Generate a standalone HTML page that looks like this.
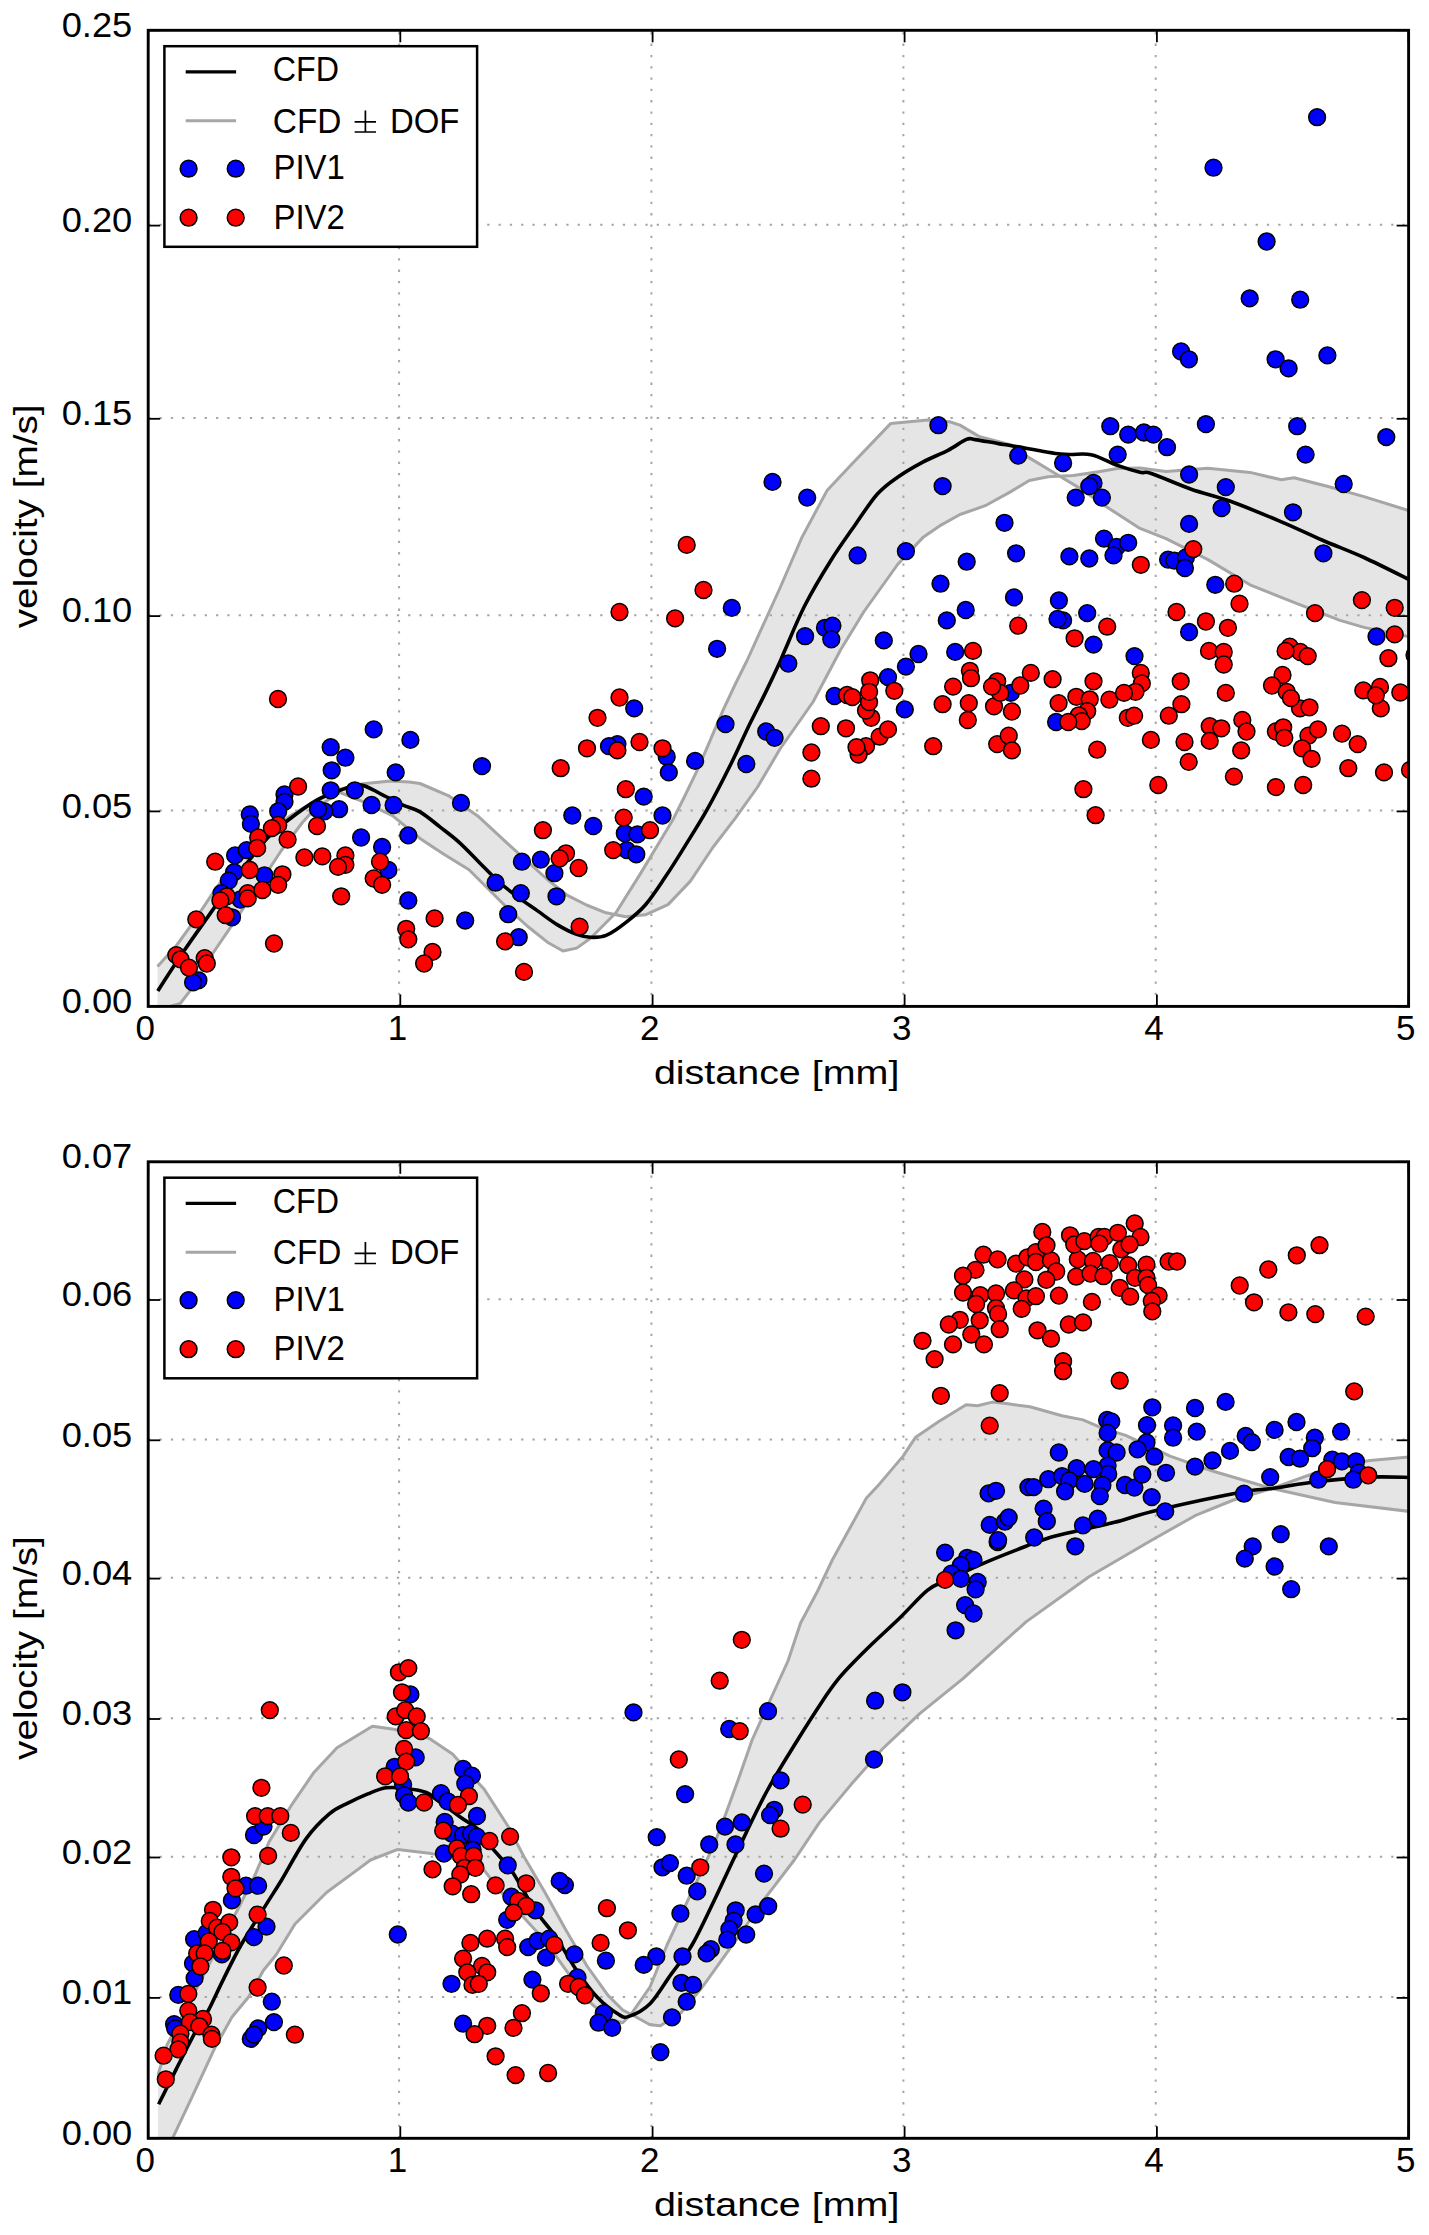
<!DOCTYPE html><html><head><meta charset="utf-8"><style>html,body{margin:0;padding:0;background:#fff;overflow:hidden}svg{display:block}.g{stroke:#a6a6a6;stroke-width:2;stroke-dasharray:2.3 9}.t{stroke:#000;stroke-width:1.8}.fr{fill:none;stroke:#000;stroke-width:2.9}.lg{fill:#fff;stroke:#000;stroke-width:2.5}.bl{fill:none;stroke:#a6a6a6;stroke-width:3;stroke-linejoin:round}.cfd{fill:none;stroke:#000;stroke-width:3.6;stroke-linejoin:round}.tl{font-family:"Liberation Sans", sans-serif;font-size:34.5px;fill:#000}.ll{font-family:"Liberation Sans", sans-serif;font-size:32.5px;fill:#000}.b{fill:#0000ff;stroke:#000;stroke-width:1.5}.r{fill:#ff0000;stroke:#000;stroke-width:1.5}</style></head><body>
<svg width="1429" height="2235" viewBox="0 0 1429 2235">
<rect width="1429" height="2235" fill="#fff"/>
<clipPath id="ctop"><rect x="148.2" y="30.3" width="1260.4" height="976.1"/></clipPath>
<g clip-path="url(#ctop)">
<polygon points="157.5,966.6 176.0,946.1 194.2,921.0 213.8,891.6 232.0,866.4 248.8,849.6 267.0,832.8 288.0,817.4 316.0,800.6 340.0,789.3 361.0,784.1 390.4,781.0 409.3,782.0 420.0,783.5 449.4,796.2 478.8,816.8 508.2,844.2 527.8,861.9 547.4,879.5 567.0,895.2 586.5,905.0 606.1,912.8 625.7,916.7 645.3,914.8 668.0,904.6 690.4,881.1 712.8,847.5 735.2,818.4 757.6,787.0 780.0,749.0 813.0,702.0 840.5,650.0 864.0,611.5 897.6,564.5 922.8,537.6 939.6,525.9 960.0,514.5 985.2,505.7 1010.4,491.9 1029.3,480.5 1048.2,476.8 1073.4,475.5 1098.5,471.7 1117.4,468.6 1140.0,467.9 1166.0,471.4 1208.0,468.2 1250.0,472.4 1281.4,479.8 1294.0,477.7 1329.0,486.8 1364.0,496.6 1410.0,511.0 1410.0,637.0 1364.0,627.4 1340.0,620.4 1292.0,601.6 1250.0,584.8 1208.0,559.6 1166.0,538.6 1140.0,528.4 1104.8,505.7 1079.6,488.1 1054.5,473.0 1029.3,457.9 1010.4,444.6 978.9,436.4 960.0,425.1 949.6,421.8 927.8,420.1 890.8,423.4 850.5,465.4 827.0,490.6 801.8,537.6 780.0,588.0 747.3,660.0 735.6,683.5 723.0,710.4 710.4,739.8 697.8,769.2 684.8,796.0 673.6,818.4 656.8,846.4 640.0,874.4 615.9,912.8 590.5,938.3 576.7,948.1 563.0,951.0 547.4,942.2 527.8,926.5 508.2,908.9 488.6,889.3 469.0,869.7 443.5,854.0 420.0,838.4 392.5,815.6 361.0,800.9 340.0,792.5 316.0,807.6 302.0,823.0 281.0,851.0 260.0,883.2 232.0,925.2 211.0,956.0 190.0,990.9 180.2,1003.5 157.5,1010.0" fill="#e5e5e5"/>
<line x1="399.1" y1="1006.4" x2="399.1" y2="30.3" class="g"/>
<line x1="651.4" y1="1006.4" x2="651.4" y2="30.3" class="g"/>
<line x1="903.4" y1="1006.4" x2="903.4" y2="30.3" class="g"/>
<line x1="1155.7" y1="1006.4" x2="1155.7" y2="30.3" class="g"/>
<line x1="148.2" y1="810.6" x2="1408.6" y2="810.6" class="g"/>
<line x1="148.2" y1="615.3" x2="1408.6" y2="615.3" class="g"/>
<line x1="148.2" y1="418.0" x2="1408.6" y2="418.0" class="g"/>
<line x1="148.2" y1="224.8" x2="1408.6" y2="224.8" class="g"/>
<polyline points="157.5,966.6 176.0,946.1 194.2,921.0 213.8,891.6 232.0,866.4 248.8,849.6 267.0,832.8 288.0,817.4 316.0,800.6 340.0,789.3 361.0,784.1 390.4,781.0 409.3,782.0 420.0,783.5 449.4,796.2 478.8,816.8 508.2,844.2 527.8,861.9 547.4,879.5 567.0,895.2 586.5,905.0 606.1,912.8 625.7,916.7 645.3,914.8 668.0,904.6 690.4,881.1 712.8,847.5 735.2,818.4 757.6,787.0 780.0,749.0 813.0,702.0 840.5,650.0 864.0,611.5 897.6,564.5 922.8,537.6 939.6,525.9 960.0,514.5 985.2,505.7 1010.4,491.9 1029.3,480.5 1048.2,476.8 1073.4,475.5 1098.5,471.7 1117.4,468.6 1140.0,467.9 1166.0,471.4 1208.0,468.2 1250.0,472.4 1281.4,479.8 1294.0,477.7 1329.0,486.8 1364.0,496.6 1410.0,511.0" class="bl"/>
<polyline points="157.5,1010.0 180.2,1003.5 190.0,990.9 211.0,956.0 232.0,925.2 260.0,883.2 281.0,851.0 302.0,823.0 316.0,807.6 340.0,792.5 361.0,800.9 392.5,815.6 420.0,838.4 443.5,854.0 469.0,869.7 488.6,889.3 508.2,908.9 527.8,926.5 547.4,942.2 563.0,951.0 576.7,948.1 590.5,938.3 615.9,912.8 640.0,874.4 656.8,846.4 673.6,818.4 684.8,796.0 697.8,769.2 710.4,739.8 723.0,710.4 735.6,683.5 747.3,660.0 780.0,588.0 801.8,537.6 827.0,490.6 850.5,465.4 890.8,423.4 927.8,420.1 949.6,421.8 960.0,425.1 978.9,436.4 1010.4,444.6 1029.3,457.9 1054.5,473.0 1079.6,488.1 1104.8,505.7 1140.0,528.4 1166.0,538.6 1208.0,559.6 1250.0,584.8 1292.0,601.6 1340.0,620.4 1364.0,627.4 1410.0,637.0" class="bl"/>
<path d="M157.8,990.9 C162.2,984.1 175.1,964.0 184.4,950.3 C193.7,936.5 205.9,919.8 213.8,908.4 C221.7,897.0 226.2,889.7 232.0,881.8 C237.8,873.9 243.0,868.0 248.8,860.8 C254.6,853.6 260.5,845.2 267.0,838.4 C273.5,831.6 279.8,826.5 288.0,820.2 C296.2,813.9 307.3,805.6 316.0,800.6 C324.7,795.6 332.5,793.0 340.0,790.4 C347.5,787.8 354.0,784.4 361.0,785.1 C368.0,785.8 375.0,791.3 382.0,794.6 C389.0,797.9 396.7,802.2 403.0,805.1 C409.3,808.0 413.9,808.3 420.0,811.9 C426.1,815.5 433.1,821.5 439.6,826.6 C446.1,831.7 452.7,836.4 459.2,842.3 C465.7,848.2 472.3,855.4 478.8,861.9 C485.3,868.4 491.9,875.6 498.4,881.5 C504.9,887.4 511.5,892.2 518.0,897.1 C524.5,902.0 531.1,906.3 537.6,910.9 C544.1,915.5 550.6,920.7 557.1,924.6 C563.6,928.5 571.1,932.3 576.7,934.4 C582.3,936.5 585.6,937.1 590.5,937.3 C595.4,937.5 600.2,937.8 606.1,935.4 C612.0,933.0 619.2,927.7 625.7,922.6 C632.2,917.5 638.8,912.5 645.3,905.0 C651.8,897.5 658.3,887.4 664.9,877.6 C671.5,867.8 677.8,857.8 684.8,846.4 C691.8,835.0 699.4,823.3 707.2,809.4 C715.0,795.5 724.6,776.7 731.4,763.0 C738.2,749.3 742.6,738.8 748.2,727.2 C753.8,715.6 759.7,704.5 765.0,693.6 C770.3,682.7 776.7,669.0 780.0,661.7 C783.3,654.4 780.8,659.5 785.0,650.0 C789.2,640.5 797.6,619.6 805.2,604.8 C812.8,590.0 822.0,574.6 830.4,561.2 C838.8,547.8 847.8,535.4 855.6,524.2 C863.4,513.0 870.4,501.8 877.4,494.0 C884.4,486.2 890.0,482.5 897.6,477.2 C905.2,471.9 914.4,466.6 922.8,462.1 C931.2,457.6 940.7,454.1 948.0,450.3 C955.3,446.5 961.9,441.2 966.4,439.4 C970.9,437.6 969.8,438.9 975.1,439.6 C980.4,440.3 992.0,442.6 998.3,443.6 C1004.6,444.7 1002.5,444.1 1012.9,445.9 C1023.3,447.6 1047.8,452.6 1060.8,454.1 C1073.8,455.6 1081.6,452.8 1091.0,454.7 C1100.4,456.6 1109.2,462.5 1117.4,465.4 C1125.6,468.3 1134.3,470.9 1140.0,472.3 C1145.7,473.7 1142.8,470.7 1151.3,473.5 C1159.8,476.3 1178.2,484.6 1191.2,489.2 C1204.2,493.8 1214.0,495.4 1229.0,500.8 C1244.0,506.2 1265.9,515.3 1281.4,521.8 C1296.9,528.3 1308.2,534.0 1322.0,540.0 C1335.8,546.0 1349.3,550.8 1364.0,557.5 C1378.7,564.2 1402.3,576.2 1410.0,580.0" class="cfd"/>
<circle cx="373.7" cy="729.4" r="8.4" class="b"/>
<circle cx="410.4" cy="739.9" r="8.4" class="b"/>
<circle cx="330.7" cy="747.2" r="8.4" class="b"/>
<circle cx="345.4" cy="757.7" r="8.4" class="b"/>
<circle cx="331.7" cy="770.3" r="8.4" class="b"/>
<circle cx="395.7" cy="772.4" r="8.4" class="b"/>
<circle cx="284.5" cy="794.5" r="8.4" class="b"/>
<circle cx="284.5" cy="801.8" r="8.4" class="b"/>
<circle cx="278.2" cy="811.3" r="8.4" class="b"/>
<circle cx="330.7" cy="790.3" r="8.4" class="b"/>
<circle cx="354.8" cy="790.3" r="8.4" class="b"/>
<circle cx="371.6" cy="805.0" r="8.4" class="b"/>
<circle cx="393.6" cy="805.0" r="8.4" class="b"/>
<circle cx="339.1" cy="809.2" r="8.4" class="b"/>
<circle cx="324.4" cy="811.3" r="8.4" class="b"/>
<circle cx="318.0" cy="809.2" r="8.4" class="b"/>
<circle cx="249.8" cy="814.4" r="8.4" class="b"/>
<circle cx="250.9" cy="823.9" r="8.4" class="b"/>
<circle cx="361.1" cy="837.5" r="8.4" class="b"/>
<circle cx="408.3" cy="835.4" r="8.4" class="b"/>
<circle cx="382.1" cy="847.0" r="8.4" class="b"/>
<circle cx="388.4" cy="870.0" r="8.4" class="b"/>
<circle cx="235.1" cy="855.4" r="8.4" class="b"/>
<circle cx="246.7" cy="850.1" r="8.4" class="b"/>
<circle cx="234.1" cy="872.2" r="8.4" class="b"/>
<circle cx="228.8" cy="880.6" r="8.4" class="b"/>
<circle cx="264.5" cy="875.3" r="8.4" class="b"/>
<circle cx="221.5" cy="893.2" r="8.4" class="b"/>
<circle cx="240.4" cy="899.5" r="8.4" class="b"/>
<circle cx="232.0" cy="917.3" r="8.4" class="b"/>
<circle cx="408.3" cy="900.5" r="8.4" class="b"/>
<circle cx="198.4" cy="980.3" r="8.4" class="b"/>
<circle cx="193.1" cy="982.4" r="8.4" class="b"/>
<circle cx="634.2" cy="708.4" r="8.4" class="b"/>
<circle cx="725.5" cy="724.1" r="8.4" class="b"/>
<circle cx="482.0" cy="766.1" r="8.4" class="b"/>
<circle cx="617.4" cy="744.1" r="8.4" class="b"/>
<circle cx="609.0" cy="746.2" r="8.4" class="b"/>
<circle cx="666.7" cy="756.7" r="8.4" class="b"/>
<circle cx="668.8" cy="772.4" r="8.4" class="b"/>
<circle cx="695.1" cy="760.9" r="8.4" class="b"/>
<circle cx="461.0" cy="802.9" r="8.4" class="b"/>
<circle cx="643.7" cy="796.6" r="8.4" class="b"/>
<circle cx="662.5" cy="815.5" r="8.4" class="b"/>
<circle cx="572.3" cy="815.5" r="8.4" class="b"/>
<circle cx="593.3" cy="826.0" r="8.4" class="b"/>
<circle cx="624.8" cy="833.3" r="8.4" class="b"/>
<circle cx="637.4" cy="834.4" r="8.4" class="b"/>
<circle cx="626.9" cy="850.1" r="8.4" class="b"/>
<circle cx="636.3" cy="854.3" r="8.4" class="b"/>
<circle cx="521.9" cy="861.7" r="8.4" class="b"/>
<circle cx="540.8" cy="859.6" r="8.4" class="b"/>
<circle cx="554.4" cy="873.2" r="8.4" class="b"/>
<circle cx="495.6" cy="882.7" r="8.4" class="b"/>
<circle cx="520.8" cy="893.2" r="8.4" class="b"/>
<circle cx="556.5" cy="896.3" r="8.4" class="b"/>
<circle cx="508.2" cy="914.2" r="8.4" class="b"/>
<circle cx="465.2" cy="920.5" r="8.4" class="b"/>
<circle cx="518.7" cy="937.2" r="8.4" class="b"/>
<circle cx="904.8" cy="709.4" r="8.4" class="b"/>
<circle cx="766.2" cy="731.5" r="8.4" class="b"/>
<circle cx="774.6" cy="737.8" r="8.4" class="b"/>
<circle cx="746.3" cy="764.0" r="8.4" class="b"/>
<circle cx="1056.1" cy="722.0" r="8.4" class="b"/>
<circle cx="731.8" cy="607.9" r="8.4" class="b"/>
<circle cx="717.1" cy="648.8" r="8.4" class="b"/>
<circle cx="938.4" cy="425.2" r="8.4" class="b"/>
<circle cx="1018.2" cy="455.6" r="8.4" class="b"/>
<circle cx="772.5" cy="481.9" r="8.4" class="b"/>
<circle cx="807.2" cy="497.6" r="8.4" class="b"/>
<circle cx="942.6" cy="486.1" r="8.4" class="b"/>
<circle cx="1004.5" cy="522.8" r="8.4" class="b"/>
<circle cx="1016.1" cy="553.3" r="8.4" class="b"/>
<circle cx="857.6" cy="555.4" r="8.4" class="b"/>
<circle cx="905.9" cy="551.2" r="8.4" class="b"/>
<circle cx="966.7" cy="561.7" r="8.4" class="b"/>
<circle cx="940.5" cy="583.7" r="8.4" class="b"/>
<circle cx="1014.0" cy="597.4" r="8.4" class="b"/>
<circle cx="965.7" cy="610.0" r="8.4" class="b"/>
<circle cx="946.8" cy="620.4" r="8.4" class="b"/>
<circle cx="805.1" cy="636.2" r="8.4" class="b"/>
<circle cx="825.0" cy="627.8" r="8.4" class="b"/>
<circle cx="832.4" cy="625.7" r="8.4" class="b"/>
<circle cx="831.3" cy="639.3" r="8.4" class="b"/>
<circle cx="788.3" cy="663.5" r="8.4" class="b"/>
<circle cx="883.8" cy="640.4" r="8.4" class="b"/>
<circle cx="918.5" cy="654.0" r="8.4" class="b"/>
<circle cx="905.9" cy="666.6" r="8.4" class="b"/>
<circle cx="955.2" cy="651.9" r="8.4" class="b"/>
<circle cx="888.0" cy="677.1" r="8.4" class="b"/>
<circle cx="834.5" cy="696.0" r="8.4" class="b"/>
<circle cx="1010.8" cy="692.9" r="8.4" class="b"/>
<circle cx="1110.3" cy="426.2" r="8.4" class="b"/>
<circle cx="1128.2" cy="434.6" r="8.4" class="b"/>
<circle cx="1143.9" cy="432.5" r="8.4" class="b"/>
<circle cx="1153.4" cy="434.6" r="8.4" class="b"/>
<circle cx="1167.0" cy="447.2" r="8.4" class="b"/>
<circle cx="1117.7" cy="454.6" r="8.4" class="b"/>
<circle cx="1205.9" cy="424.1" r="8.4" class="b"/>
<circle cx="1297.2" cy="426.2" r="8.4" class="b"/>
<circle cx="1305.6" cy="454.6" r="8.4" class="b"/>
<circle cx="1063.1" cy="463.0" r="8.4" class="b"/>
<circle cx="1189.1" cy="474.5" r="8.4" class="b"/>
<circle cx="1225.8" cy="487.1" r="8.4" class="b"/>
<circle cx="1221.6" cy="508.1" r="8.4" class="b"/>
<circle cx="1293.0" cy="512.3" r="8.4" class="b"/>
<circle cx="1093.5" cy="482.9" r="8.4" class="b"/>
<circle cx="1089.3" cy="486.1" r="8.4" class="b"/>
<circle cx="1075.7" cy="497.6" r="8.4" class="b"/>
<circle cx="1101.9" cy="497.6" r="8.4" class="b"/>
<circle cx="1189.1" cy="523.9" r="8.4" class="b"/>
<circle cx="1104.0" cy="538.6" r="8.4" class="b"/>
<circle cx="1116.6" cy="547.0" r="8.4" class="b"/>
<circle cx="1128.2" cy="542.8" r="8.4" class="b"/>
<circle cx="1113.5" cy="555.4" r="8.4" class="b"/>
<circle cx="1069.4" cy="556.4" r="8.4" class="b"/>
<circle cx="1089.3" cy="558.5" r="8.4" class="b"/>
<circle cx="1323.4" cy="553.3" r="8.4" class="b"/>
<circle cx="1168.1" cy="559.6" r="8.4" class="b"/>
<circle cx="1174.4" cy="560.6" r="8.4" class="b"/>
<circle cx="1185.9" cy="557.5" r="8.4" class="b"/>
<circle cx="1184.9" cy="568.0" r="8.4" class="b"/>
<circle cx="1215.3" cy="584.8" r="8.4" class="b"/>
<circle cx="1058.9" cy="600.5" r="8.4" class="b"/>
<circle cx="1063.1" cy="620.4" r="8.4" class="b"/>
<circle cx="1087.2" cy="613.1" r="8.4" class="b"/>
<circle cx="1189.1" cy="632.0" r="8.4" class="b"/>
<circle cx="1093.5" cy="644.6" r="8.4" class="b"/>
<circle cx="1134.5" cy="656.1" r="8.4" class="b"/>
<circle cx="1386.3" cy="437.1" r="8.4" class="b"/>
<circle cx="1343.7" cy="484.0" r="8.4" class="b"/>
<circle cx="1376.5" cy="636.5" r="8.4" class="b"/>
<circle cx="1317.1" cy="117.2" r="8.4" class="b"/>
<circle cx="1213.5" cy="167.7" r="8.4" class="b"/>
<circle cx="1266.6" cy="241.5" r="8.4" class="b"/>
<circle cx="1249.7" cy="298.4" r="8.4" class="b"/>
<circle cx="1300.2" cy="299.7" r="8.4" class="b"/>
<circle cx="1181.1" cy="351.5" r="8.4" class="b"/>
<circle cx="1188.9" cy="359.3" r="8.4" class="b"/>
<circle cx="1275.6" cy="359.3" r="8.4" class="b"/>
<circle cx="1288.6" cy="368.4" r="8.4" class="b"/>
<circle cx="1327.4" cy="355.4" r="8.4" class="b"/>
<circle cx="1057.5" cy="619.0" r="8.4" class="b"/>
<circle cx="278.0" cy="699.0" r="8.4" class="r"/>
<circle cx="298.1" cy="786.5" r="8.4" class="r"/>
<circle cx="215.2" cy="861.7" r="8.4" class="r"/>
<circle cx="196.3" cy="919.4" r="8.4" class="r"/>
<circle cx="274.0" cy="943.5" r="8.4" class="r"/>
<circle cx="176.3" cy="955.1" r="8.4" class="r"/>
<circle cx="180.5" cy="959.3" r="8.4" class="r"/>
<circle cx="189.0" cy="967.7" r="8.4" class="r"/>
<circle cx="204.7" cy="958.2" r="8.4" class="r"/>
<circle cx="206.8" cy="963.5" r="8.4" class="r"/>
<circle cx="278.2" cy="824.9" r="8.4" class="r"/>
<circle cx="271.9" cy="828.1" r="8.4" class="r"/>
<circle cx="258.2" cy="837.5" r="8.4" class="r"/>
<circle cx="257.2" cy="848.0" r="8.4" class="r"/>
<circle cx="287.6" cy="839.6" r="8.4" class="r"/>
<circle cx="249.8" cy="870.0" r="8.4" class="r"/>
<circle cx="226.7" cy="896.3" r="8.4" class="r"/>
<circle cx="220.4" cy="900.5" r="8.4" class="r"/>
<circle cx="225.7" cy="915.2" r="8.4" class="r"/>
<circle cx="247.7" cy="893.2" r="8.4" class="r"/>
<circle cx="247.7" cy="898.4" r="8.4" class="r"/>
<circle cx="262.4" cy="890.0" r="8.4" class="r"/>
<circle cx="282.4" cy="874.3" r="8.4" class="r"/>
<circle cx="278.2" cy="884.8" r="8.4" class="r"/>
<circle cx="304.4" cy="857.5" r="8.4" class="r"/>
<circle cx="322.3" cy="856.4" r="8.4" class="r"/>
<circle cx="317.0" cy="826.0" r="8.4" class="r"/>
<circle cx="345.4" cy="855.4" r="8.4" class="r"/>
<circle cx="345.4" cy="864.8" r="8.4" class="r"/>
<circle cx="338.0" cy="866.9" r="8.4" class="r"/>
<circle cx="341.2" cy="896.3" r="8.4" class="r"/>
<circle cx="380.0" cy="861.7" r="8.4" class="r"/>
<circle cx="373.7" cy="878.5" r="8.4" class="r"/>
<circle cx="382.1" cy="884.8" r="8.4" class="r"/>
<circle cx="406.2" cy="928.8" r="8.4" class="r"/>
<circle cx="408.3" cy="939.3" r="8.4" class="r"/>
<circle cx="434.6" cy="918.4" r="8.4" class="r"/>
<circle cx="432.5" cy="951.9" r="8.4" class="r"/>
<circle cx="424.1" cy="963.5" r="8.4" class="r"/>
<circle cx="597.5" cy="717.8" r="8.4" class="r"/>
<circle cx="587.0" cy="748.3" r="8.4" class="r"/>
<circle cx="617.4" cy="750.4" r="8.4" class="r"/>
<circle cx="639.5" cy="742.0" r="8.4" class="r"/>
<circle cx="662.5" cy="748.3" r="8.4" class="r"/>
<circle cx="560.7" cy="768.2" r="8.4" class="r"/>
<circle cx="625.8" cy="789.2" r="8.4" class="r"/>
<circle cx="623.7" cy="817.6" r="8.4" class="r"/>
<circle cx="650.0" cy="830.2" r="8.4" class="r"/>
<circle cx="542.9" cy="830.2" r="8.4" class="r"/>
<circle cx="566.0" cy="853.3" r="8.4" class="r"/>
<circle cx="559.7" cy="858.5" r="8.4" class="r"/>
<circle cx="578.6" cy="868.0" r="8.4" class="r"/>
<circle cx="613.2" cy="850.1" r="8.4" class="r"/>
<circle cx="579.6" cy="926.7" r="8.4" class="r"/>
<circle cx="505.1" cy="941.4" r="8.4" class="r"/>
<circle cx="524.0" cy="971.9" r="8.4" class="r"/>
<circle cx="820.8" cy="726.2" r="8.4" class="r"/>
<circle cx="846.0" cy="728.3" r="8.4" class="r"/>
<circle cx="811.4" cy="752.5" r="8.4" class="r"/>
<circle cx="811.4" cy="778.7" r="8.4" class="r"/>
<circle cx="866.0" cy="746.2" r="8.4" class="r"/>
<circle cx="858.6" cy="754.6" r="8.4" class="r"/>
<circle cx="856.5" cy="747.2" r="8.4" class="r"/>
<circle cx="879.6" cy="736.7" r="8.4" class="r"/>
<circle cx="888.0" cy="729.4" r="8.4" class="r"/>
<circle cx="871.2" cy="717.8" r="8.4" class="r"/>
<circle cx="866.0" cy="710.5" r="8.4" class="r"/>
<circle cx="933.2" cy="746.2" r="8.4" class="r"/>
<circle cx="967.8" cy="720.0" r="8.4" class="r"/>
<circle cx="997.2" cy="744.1" r="8.4" class="r"/>
<circle cx="1008.7" cy="735.7" r="8.4" class="r"/>
<circle cx="1011.9" cy="750.4" r="8.4" class="r"/>
<circle cx="1011.9" cy="711.5" r="8.4" class="r"/>
<circle cx="994.0" cy="706.3" r="8.4" class="r"/>
<circle cx="942.6" cy="704.2" r="8.4" class="r"/>
<circle cx="968.8" cy="703.1" r="8.4" class="r"/>
<circle cx="869.1" cy="702.1" r="8.4" class="r"/>
<circle cx="1058.6" cy="703.1" r="8.4" class="r"/>
<circle cx="1076.3" cy="696.8" r="8.4" class="r"/>
<circle cx="1089.7" cy="699.3" r="8.4" class="r"/>
<circle cx="1087.2" cy="711.1" r="8.4" class="r"/>
<circle cx="1078.8" cy="715.3" r="8.4" class="r"/>
<circle cx="1081.7" cy="721.1" r="8.4" class="r"/>
<circle cx="1068.3" cy="722.0" r="8.4" class="r"/>
<circle cx="1109.4" cy="699.7" r="8.4" class="r"/>
<circle cx="1097.2" cy="749.7" r="8.4" class="r"/>
<circle cx="1083.4" cy="789.2" r="8.4" class="r"/>
<circle cx="1127.8" cy="717.8" r="8.4" class="r"/>
<circle cx="1134.1" cy="715.7" r="8.4" class="r"/>
<circle cx="1168.8" cy="715.7" r="8.4" class="r"/>
<circle cx="1181.4" cy="704.2" r="8.4" class="r"/>
<circle cx="1150.9" cy="739.9" r="8.4" class="r"/>
<circle cx="1184.5" cy="742.0" r="8.4" class="r"/>
<circle cx="1188.7" cy="761.9" r="8.4" class="r"/>
<circle cx="1158.3" cy="785.0" r="8.4" class="r"/>
<circle cx="1209.7" cy="726.2" r="8.4" class="r"/>
<circle cx="1221.3" cy="728.3" r="8.4" class="r"/>
<circle cx="1209.7" cy="740.9" r="8.4" class="r"/>
<circle cx="1242.3" cy="719.9" r="8.4" class="r"/>
<circle cx="1246.5" cy="731.5" r="8.4" class="r"/>
<circle cx="1241.2" cy="750.4" r="8.4" class="r"/>
<circle cx="1233.9" cy="776.6" r="8.4" class="r"/>
<circle cx="1275.9" cy="731.5" r="8.4" class="r"/>
<circle cx="1283.2" cy="727.3" r="8.4" class="r"/>
<circle cx="1284.3" cy="737.8" r="8.4" class="r"/>
<circle cx="1275.9" cy="787.1" r="8.4" class="r"/>
<circle cx="1300.0" cy="708.4" r="8.4" class="r"/>
<circle cx="1309.5" cy="707.3" r="8.4" class="r"/>
<circle cx="1308.4" cy="735.7" r="8.4" class="r"/>
<circle cx="1317.9" cy="729.4" r="8.4" class="r"/>
<circle cx="1302.1" cy="748.3" r="8.4" class="r"/>
<circle cx="1311.6" cy="758.8" r="8.4" class="r"/>
<circle cx="1303.2" cy="785.0" r="8.4" class="r"/>
<circle cx="1342.0" cy="733.6" r="8.4" class="r"/>
<circle cx="1357.7" cy="744.1" r="8.4" class="r"/>
<circle cx="1348.3" cy="768.2" r="8.4" class="r"/>
<circle cx="1380.8" cy="708.4" r="8.4" class="r"/>
<circle cx="1384.0" cy="772.4" r="8.4" class="r"/>
<circle cx="1410.0" cy="770.0" r="8.4" class="r"/>
<circle cx="686.7" cy="544.9" r="8.4" class="r"/>
<circle cx="703.5" cy="590.0" r="8.4" class="r"/>
<circle cx="619.5" cy="612.0" r="8.4" class="r"/>
<circle cx="675.1" cy="618.4" r="8.4" class="r"/>
<circle cx="619.5" cy="697.5" r="8.4" class="r"/>
<circle cx="1018.2" cy="625.7" r="8.4" class="r"/>
<circle cx="973.0" cy="650.9" r="8.4" class="r"/>
<circle cx="969.9" cy="670.8" r="8.4" class="r"/>
<circle cx="971.0" cy="678.2" r="8.4" class="r"/>
<circle cx="953.1" cy="686.6" r="8.4" class="r"/>
<circle cx="997.2" cy="681.3" r="8.4" class="r"/>
<circle cx="1000.3" cy="692.9" r="8.4" class="r"/>
<circle cx="992.0" cy="686.6" r="8.4" class="r"/>
<circle cx="1020.3" cy="685.5" r="8.4" class="r"/>
<circle cx="1030.8" cy="672.9" r="8.4" class="r"/>
<circle cx="870.2" cy="680.3" r="8.4" class="r"/>
<circle cx="869.1" cy="691.8" r="8.4" class="r"/>
<circle cx="894.3" cy="690.8" r="8.4" class="r"/>
<circle cx="847.1" cy="695.0" r="8.4" class="r"/>
<circle cx="852.3" cy="697.1" r="8.4" class="r"/>
<circle cx="1193.3" cy="549.1" r="8.4" class="r"/>
<circle cx="1140.8" cy="564.8" r="8.4" class="r"/>
<circle cx="1234.2" cy="583.7" r="8.4" class="r"/>
<circle cx="1239.5" cy="603.7" r="8.4" class="r"/>
<circle cx="1176.5" cy="612.0" r="8.4" class="r"/>
<circle cx="1315.0" cy="613.1" r="8.4" class="r"/>
<circle cx="1205.9" cy="621.5" r="8.4" class="r"/>
<circle cx="1227.9" cy="627.8" r="8.4" class="r"/>
<circle cx="1107.2" cy="626.7" r="8.4" class="r"/>
<circle cx="1074.6" cy="638.3" r="8.4" class="r"/>
<circle cx="1209.0" cy="650.9" r="8.4" class="r"/>
<circle cx="1223.7" cy="652.0" r="8.4" class="r"/>
<circle cx="1223.7" cy="664.5" r="8.4" class="r"/>
<circle cx="1289.8" cy="646.7" r="8.4" class="r"/>
<circle cx="1300.3" cy="652.0" r="8.4" class="r"/>
<circle cx="1307.7" cy="656.1" r="8.4" class="r"/>
<circle cx="1285.6" cy="650.9" r="8.4" class="r"/>
<circle cx="1052.6" cy="679.2" r="8.4" class="r"/>
<circle cx="1093.5" cy="681.3" r="8.4" class="r"/>
<circle cx="1140.8" cy="672.9" r="8.4" class="r"/>
<circle cx="1141.8" cy="683.4" r="8.4" class="r"/>
<circle cx="1135.5" cy="691.8" r="8.4" class="r"/>
<circle cx="1124.0" cy="692.9" r="8.4" class="r"/>
<circle cx="1180.7" cy="681.3" r="8.4" class="r"/>
<circle cx="1225.8" cy="692.9" r="8.4" class="r"/>
<circle cx="1282.5" cy="675.0" r="8.4" class="r"/>
<circle cx="1272.0" cy="685.5" r="8.4" class="r"/>
<circle cx="1286.7" cy="691.8" r="8.4" class="r"/>
<circle cx="1290.9" cy="698.1" r="8.4" class="r"/>
<circle cx="1361.9" cy="600.1" r="8.4" class="r"/>
<circle cx="1394.7" cy="607.8" r="8.4" class="r"/>
<circle cx="1394.7" cy="634.4" r="8.4" class="r"/>
<circle cx="1388.4" cy="658.2" r="8.4" class="r"/>
<circle cx="1414.5" cy="655.0" r="8.4" class="r"/>
<circle cx="1363.3" cy="690.4" r="8.4" class="r"/>
<circle cx="1380.0" cy="686.9" r="8.4" class="r"/>
<circle cx="1375.8" cy="695.3" r="8.4" class="r"/>
<circle cx="1400.3" cy="692.5" r="8.4" class="r"/>
<circle cx="1095.6" cy="815.2" r="8.4" class="r"/>
</g>
<line x1="148.2" y1="1006.4" x2="148.2" y2="994.4" class="t"/>
<line x1="148.2" y1="30.3" x2="148.2" y2="42.3" class="t"/>
<line x1="400.3" y1="1006.4" x2="400.3" y2="994.4" class="t"/>
<line x1="400.3" y1="30.3" x2="400.3" y2="42.3" class="t"/>
<line x1="652.6" y1="1006.4" x2="652.6" y2="994.4" class="t"/>
<line x1="652.6" y1="30.3" x2="652.6" y2="42.3" class="t"/>
<line x1="904.6" y1="1006.4" x2="904.6" y2="994.4" class="t"/>
<line x1="904.6" y1="30.3" x2="904.6" y2="42.3" class="t"/>
<line x1="1156.9" y1="1006.4" x2="1156.9" y2="994.4" class="t"/>
<line x1="1156.9" y1="30.3" x2="1156.9" y2="42.3" class="t"/>
<line x1="1408.6" y1="1006.4" x2="1408.6" y2="994.4" class="t"/>
<line x1="1408.6" y1="30.3" x2="1408.6" y2="42.3" class="t"/>
<line x1="148.2" y1="1006.4" x2="160.2" y2="1006.4" class="t"/>
<line x1="1408.6" y1="1006.4" x2="1396.6" y2="1006.4" class="t"/>
<line x1="148.2" y1="811.4" x2="160.2" y2="811.4" class="t"/>
<line x1="1408.6" y1="811.4" x2="1396.6" y2="811.4" class="t"/>
<line x1="148.2" y1="616.1" x2="160.2" y2="616.1" class="t"/>
<line x1="1408.6" y1="616.1" x2="1396.6" y2="616.1" class="t"/>
<line x1="148.2" y1="418.8" x2="160.2" y2="418.8" class="t"/>
<line x1="1408.6" y1="418.8" x2="1396.6" y2="418.8" class="t"/>
<line x1="148.2" y1="225.6" x2="160.2" y2="225.6" class="t"/>
<line x1="1408.6" y1="225.6" x2="1396.6" y2="225.6" class="t"/>
<line x1="148.2" y1="30.3" x2="160.2" y2="30.3" class="t"/>
<line x1="1408.6" y1="30.3" x2="1396.6" y2="30.3" class="t"/>
<rect x="148.2" y="30.3" width="1260.4" height="976.1" class="fr"/>
<text x="132.30" y="1012.60" text-anchor="end" class="tl" textLength="70.63" lengthAdjust="spacingAndGlyphs">0.00</text>
<text x="132.30" y="817.60" text-anchor="end" class="tl" textLength="70.63" lengthAdjust="spacingAndGlyphs">0.05</text>
<text x="132.30" y="622.30" text-anchor="end" class="tl" textLength="70.63" lengthAdjust="spacingAndGlyphs">0.10</text>
<text x="132.30" y="425.00" text-anchor="end" class="tl" textLength="70.63" lengthAdjust="spacingAndGlyphs">0.15</text>
<text x="132.30" y="231.80" text-anchor="end" class="tl" textLength="70.63" lengthAdjust="spacingAndGlyphs">0.20</text>
<text x="132.30" y="36.50" text-anchor="end" class="tl" textLength="70.63" lengthAdjust="spacingAndGlyphs">0.25</text>
<text x="135.57" y="1040.00" class="tl" textLength="19.47" lengthAdjust="spacingAndGlyphs">0</text>
<text x="387.67" y="1040.00" class="tl" textLength="19.47" lengthAdjust="spacingAndGlyphs">1</text>
<text x="639.97" y="1040.00" class="tl" textLength="19.47" lengthAdjust="spacingAndGlyphs">2</text>
<text x="891.97" y="1040.00" class="tl" textLength="19.47" lengthAdjust="spacingAndGlyphs">3</text>
<text x="1144.27" y="1040.00" class="tl" textLength="19.47" lengthAdjust="spacingAndGlyphs">4</text>
<text x="1395.97" y="1040.00" class="tl" textLength="19.47" lengthAdjust="spacingAndGlyphs">5</text>
<text x="653.90" y="1084.30" class="tl" style="font-size:33.3px" textLength="245.48" lengthAdjust="spacingAndGlyphs">distance [mm]</text>
<text transform="translate(37.00,516.35) rotate(-90)" text-anchor="middle" class="tl" style="font-size:33.3px" textLength="223.84" lengthAdjust="spacingAndGlyphs">velocity [m/s]</text>
<rect x="164.4" y="46.2" width="312.7" height="200.6" class="lg"/>
<line x1="185.7" y1="71.9" x2="236.1" y2="71.9" stroke="#000" stroke-width="3.4"/>
<line x1="185.7" y1="120.7" x2="236.1" y2="120.7" stroke="#a6a6a6" stroke-width="3"/>
<circle cx="188.6" cy="168.7" r="8.4" class="b"/>
<circle cx="188.6" cy="217.7" r="8.4" class="r"/>
<circle cx="235.7" cy="168.7" r="8.4" class="b"/>
<circle cx="235.7" cy="217.7" r="8.4" class="r"/>
<text x="272.80" y="81.40" class="tl" textLength="66.17" lengthAdjust="spacingAndGlyphs">CFD</text>
<text x="272.80" y="132.70" class="tl" textLength="68.59" lengthAdjust="spacingAndGlyphs">CFD</text>
<text x="389.90" y="132.70" class="tl" textLength="69.38" lengthAdjust="spacingAndGlyphs">DOF</text>
<text x="273.40" y="179.00" class="tl" textLength="71.49" lengthAdjust="spacingAndGlyphs">PIV1</text>
<text x="273.40" y="228.50" class="tl" textLength="71.49" lengthAdjust="spacingAndGlyphs">PIV2</text>
<path d="M354.6,132.0 H376 M354.6,121.9 H376 M365.4,110.5 V132.0" stroke="#000" stroke-width="1.7" fill="none"/>
<clipPath id="cbot"><rect x="148.2" y="1161.8" width="1260.4" height="976.5"/></clipPath>
<g clip-path="url(#cbot)">
<polygon points="158.0,2075.0 167.0,2045.0 180.0,2020.0 200.0,1982.0 220.0,1943.0 240.0,1905.0 255.0,1875.0 269.2,1841.6 290.8,1806.2 313.9,1772.4 337.0,1747.7 372.4,1726.2 394.0,1729.3 429.4,1738.5 452.5,1753.9 480.0,1784.7 484.4,1789.6 507.9,1826.0 524.0,1856.8 545.0,1892.5 566.0,1930.3 587.0,1966.0 608.0,1995.4 622.7,2010.0 631.0,2014.3 650.0,2024.8 660.4,2025.8 681.4,2012.2 702.4,1987.0 723.4,1957.6 740.0,1934.5 763.0,1900.9 794.3,1860.0 819.5,1822.4 851.0,1784.6 882.4,1749.0 920.0,1713.3 963.0,1678.6 1026.0,1621.9 1089.0,1576.7 1152.0,1540.0 1195.0,1515.7 1233.5,1500.0 1272.0,1488.5 1335.0,1465.7 1370.0,1460.5 1410.0,1457.0 1410.0,1511.5 1335.0,1502.5 1272.0,1488.5 1212.5,1471.0 1170.0,1456.1 1146.0,1444.6 1125.0,1435.1 1104.0,1428.8 1083.0,1419.9 1062.0,1415.7 1030.0,1406.8 1006.0,1403.6 992.3,1402.1 977.6,1405.7 966.1,1404.7 938.8,1421.5 915.7,1437.2 903.1,1456.1 880.0,1483.4 866.5,1497.9 832.3,1560.0 817.4,1591.5 800.6,1623.0 788.0,1661.0 767.0,1707.0 752.1,1740.0 738.4,1779.2 725.6,1814.4 714.8,1842.8 701.1,1872.2 686.6,1903.0 667.0,1945.0 650.0,1987.0 631.0,2014.3 622.7,2022.7 608.0,2018.5 587.0,1999.6 566.0,1970.2 545.0,1940.8 524.0,1917.7 503.0,1894.6 482.0,1867.3 448.0,1856.8 431.4,1853.6 397.8,1849.4 370.5,1860.0 358.0,1869.4 326.5,1892.5 295.0,1924.0 276.0,1955.0 263.5,1970.2 248.8,1996.8 232.0,2017.0 215.2,2047.2 192.8,2095.3 173.8,2135.6 158.0,2170.0" fill="#e5e5e5"/>
<line x1="399.1" y1="2138.3" x2="399.1" y2="1161.8" class="g"/>
<line x1="651.4" y1="2138.3" x2="651.4" y2="1161.8" class="g"/>
<line x1="903.4" y1="2138.3" x2="903.4" y2="1161.8" class="g"/>
<line x1="1155.7" y1="2138.3" x2="1155.7" y2="1161.8" class="g"/>
<line x1="148.2" y1="1997.1" x2="1408.6" y2="1997.1" class="g"/>
<line x1="148.2" y1="1856.7" x2="1408.6" y2="1856.7" class="g"/>
<line x1="148.2" y1="1718.2" x2="1408.6" y2="1718.2" class="g"/>
<line x1="148.2" y1="1577.8" x2="1408.6" y2="1577.8" class="g"/>
<line x1="148.2" y1="1439.5" x2="1408.6" y2="1439.5" class="g"/>
<line x1="148.2" y1="1299.2" x2="1408.6" y2="1299.2" class="g"/>
<polyline points="158.0,2075.0 167.0,2045.0 180.0,2020.0 200.0,1982.0 220.0,1943.0 240.0,1905.0 255.0,1875.0 269.2,1841.6 290.8,1806.2 313.9,1772.4 337.0,1747.7 372.4,1726.2 394.0,1729.3 429.4,1738.5 452.5,1753.9 480.0,1784.7 484.4,1789.6 507.9,1826.0 524.0,1856.8 545.0,1892.5 566.0,1930.3 587.0,1966.0 608.0,1995.4 622.7,2010.0 631.0,2014.3 650.0,2024.8 660.4,2025.8 681.4,2012.2 702.4,1987.0 723.4,1957.6 740.0,1934.5 763.0,1900.9 794.3,1860.0 819.5,1822.4 851.0,1784.6 882.4,1749.0 920.0,1713.3 963.0,1678.6 1026.0,1621.9 1089.0,1576.7 1152.0,1540.0 1195.0,1515.7 1233.5,1500.0 1272.0,1488.5 1335.0,1465.7 1370.0,1460.5 1410.0,1457.0" class="bl"/>
<polyline points="158.0,2170.0 173.8,2135.6 192.8,2095.3 215.2,2047.2 232.0,2017.0 248.8,1996.8 263.5,1970.2 276.0,1955.0 295.0,1924.0 326.5,1892.5 358.0,1869.4 370.5,1860.0 397.8,1849.4 431.4,1853.6 448.0,1856.8 482.0,1867.3 503.0,1894.6 524.0,1917.7 545.0,1940.8 566.0,1970.2 587.0,1999.6 608.0,2018.5 622.7,2022.7 631.0,2014.3 650.0,1987.0 667.0,1945.0 686.6,1903.0 701.1,1872.2 714.8,1842.8 725.6,1814.4 738.4,1779.2 752.1,1740.0 767.0,1707.0 788.0,1661.0 800.6,1623.0 817.4,1591.5 832.3,1560.0 866.5,1497.9 880.0,1483.4 903.1,1456.1 915.7,1437.2 938.8,1421.5 966.1,1404.7 977.6,1405.7 992.3,1402.1 1006.0,1403.6 1030.0,1406.8 1062.0,1415.7 1083.0,1419.9 1104.0,1428.8 1125.0,1435.1 1146.0,1444.6 1170.0,1456.1 1212.5,1471.0 1272.0,1488.5 1335.0,1502.5 1410.0,1511.5" class="bl"/>
<path d="M158.6,2104.3 C161.5,2098.5 169.9,2081.6 176.0,2069.6 C182.1,2057.6 189.6,2042.5 195.0,2032.6 C200.4,2022.7 203.8,2019.1 208.5,2010.2 C213.2,2001.3 218.0,1990.0 223.5,1979.1 C229.0,1968.1 234.3,1956.8 241.3,1944.5 C248.3,1932.2 258.8,1916.3 265.5,1905.6 C272.2,1894.8 274.8,1891.2 281.6,1880.0 C288.4,1868.8 298.2,1849.6 306.2,1838.6 C314.1,1827.6 322.4,1819.8 329.3,1813.9 C336.2,1808.0 341.4,1806.5 347.8,1803.2 C354.2,1799.9 361.4,1796.5 367.8,1793.9 C374.2,1791.3 379.8,1788.7 386.2,1787.8 C392.6,1786.9 399.6,1787.7 406.3,1788.5 C413.0,1789.3 421.2,1790.5 426.3,1792.4 C431.4,1794.3 431.4,1795.9 437.0,1800.0 C442.6,1804.1 453.0,1811.8 460.2,1817.0 C467.4,1822.2 474.6,1825.7 480.0,1830.9 C485.4,1836.1 487.1,1841.6 492.5,1848.4 C497.9,1855.2 505.4,1861.8 512.4,1872.0 C519.4,1882.2 527.3,1898.5 534.5,1909.3 C541.7,1920.1 548.5,1926.4 555.5,1936.6 C562.5,1946.8 569.5,1960.0 576.5,1970.2 C583.5,1980.4 590.5,1990.2 597.5,1997.5 C604.5,2004.8 613.2,2011.1 618.5,2014.3 C623.8,2017.5 623.8,2018.2 629.0,2016.4 C634.2,2014.7 643.0,2010.8 650.0,2003.8 C657.0,1996.8 664.0,1984.2 671.0,1974.4 C678.0,1964.6 685.0,1956.9 692.0,1945.0 C699.0,1933.1 705.7,1918.0 713.0,1903.0 C720.3,1888.0 726.7,1873.4 735.7,1854.7 C744.7,1836.0 756.5,1810.4 767.0,1791.0 C777.5,1771.6 789.2,1753.6 798.5,1738.5 C807.8,1723.4 816.6,1709.9 823.0,1700.2 C829.4,1690.5 832.3,1686.5 837.0,1680.6 C841.7,1674.7 845.2,1671.1 851.0,1665.0 C856.8,1658.9 863.8,1651.9 872.0,1644.0 C880.2,1636.1 890.8,1626.6 900.0,1617.7 C909.2,1608.8 919.8,1596.5 927.3,1590.4 C934.8,1584.3 935.6,1585.5 945.1,1581.0 C954.6,1576.5 970.5,1568.9 984.0,1563.1 C997.5,1557.3 1014.8,1550.6 1026.0,1546.3 C1037.2,1542.0 1042.0,1539.8 1051.5,1537.0 C1061.0,1534.2 1072.5,1532.0 1083.0,1529.6 C1093.5,1527.1 1101.7,1525.6 1114.5,1522.3 C1127.3,1519.0 1138.7,1514.5 1160.0,1509.5 C1181.3,1504.5 1223.5,1495.5 1242.2,1492.0 C1260.9,1488.5 1259.5,1490.2 1272.0,1488.5 C1284.5,1486.8 1301.2,1483.4 1317.5,1481.5 C1333.8,1479.6 1354.6,1477.8 1370.0,1477.1 C1385.4,1476.4 1403.3,1477.4 1410.0,1477.5" class="cfd"/>
<circle cx="246.0" cy="1885.7" r="8.4" class="b"/>
<circle cx="258.1" cy="1885.7" r="8.4" class="b"/>
<circle cx="231.9" cy="1900.4" r="8.4" class="b"/>
<circle cx="194.1" cy="1939.2" r="8.4" class="b"/>
<circle cx="206.7" cy="1932.9" r="8.4" class="b"/>
<circle cx="221.9" cy="1954.4" r="8.4" class="b"/>
<circle cx="253.9" cy="1937.1" r="8.4" class="b"/>
<circle cx="266.5" cy="1926.6" r="8.4" class="b"/>
<circle cx="193.0" cy="1963.4" r="8.4" class="b"/>
<circle cx="194.6" cy="1978.1" r="8.4" class="b"/>
<circle cx="178.3" cy="1994.9" r="8.4" class="b"/>
<circle cx="271.8" cy="2001.7" r="8.4" class="b"/>
<circle cx="174.1" cy="2024.2" r="8.4" class="b"/>
<circle cx="175.2" cy="2028.4" r="8.4" class="b"/>
<circle cx="273.9" cy="2022.1" r="8.4" class="b"/>
<circle cx="258.1" cy="2028.4" r="8.4" class="b"/>
<circle cx="250.8" cy="2038.9" r="8.4" class="b"/>
<circle cx="253.9" cy="2034.7" r="8.4" class="b"/>
<circle cx="397.8" cy="1934.5" r="8.4" class="b"/>
<circle cx="443.9" cy="1853.5" r="8.4" class="b"/>
<circle cx="507.7" cy="1865.3" r="8.4" class="b"/>
<circle cx="564.9" cy="1885.1" r="8.4" class="b"/>
<circle cx="559.7" cy="1880.9" r="8.4" class="b"/>
<circle cx="511.4" cy="1896.7" r="8.4" class="b"/>
<circle cx="535.5" cy="1910.3" r="8.4" class="b"/>
<circle cx="507.2" cy="1919.8" r="8.4" class="b"/>
<circle cx="528.2" cy="1947.1" r="8.4" class="b"/>
<circle cx="537.6" cy="1940.8" r="8.4" class="b"/>
<circle cx="549.2" cy="1938.7" r="8.4" class="b"/>
<circle cx="546.0" cy="1957.6" r="8.4" class="b"/>
<circle cx="574.4" cy="1954.4" r="8.4" class="b"/>
<circle cx="577.5" cy="1977.5" r="8.4" class="b"/>
<circle cx="532.4" cy="1979.6" r="8.4" class="b"/>
<circle cx="451.5" cy="1983.8" r="8.4" class="b"/>
<circle cx="605.9" cy="1960.7" r="8.4" class="b"/>
<circle cx="603.8" cy="2013.2" r="8.4" class="b"/>
<circle cx="598.5" cy="2022.7" r="8.4" class="b"/>
<circle cx="612.2" cy="2027.9" r="8.4" class="b"/>
<circle cx="463.1" cy="2023.7" r="8.4" class="b"/>
<circle cx="656.3" cy="1956.5" r="8.4" class="b"/>
<circle cx="643.7" cy="1964.9" r="8.4" class="b"/>
<circle cx="660.4" cy="2052.1" r="8.4" class="b"/>
<circle cx="672.0" cy="2017.4" r="8.4" class="b"/>
<circle cx="686.7" cy="2001.7" r="8.4" class="b"/>
<circle cx="681.4" cy="1982.8" r="8.4" class="b"/>
<circle cx="693.0" cy="1984.9" r="8.4" class="b"/>
<circle cx="682.5" cy="1956.5" r="8.4" class="b"/>
<circle cx="680.4" cy="1913.5" r="8.4" class="b"/>
<circle cx="697.2" cy="1891.4" r="8.4" class="b"/>
<circle cx="686.7" cy="1875.7" r="8.4" class="b"/>
<circle cx="662.5" cy="1867.3" r="8.4" class="b"/>
<circle cx="669.9" cy="1863.1" r="8.4" class="b"/>
<circle cx="710.8" cy="1949.2" r="8.4" class="b"/>
<circle cx="706.6" cy="1953.4" r="8.4" class="b"/>
<circle cx="764.0" cy="1873.6" r="8.4" class="b"/>
<circle cx="735.7" cy="1910.3" r="8.4" class="b"/>
<circle cx="733.6" cy="1920.8" r="8.4" class="b"/>
<circle cx="729.4" cy="1929.2" r="8.4" class="b"/>
<circle cx="727.3" cy="1939.7" r="8.4" class="b"/>
<circle cx="746.2" cy="1934.5" r="8.4" class="b"/>
<circle cx="755.6" cy="1914.5" r="8.4" class="b"/>
<circle cx="768.2" cy="1906.1" r="8.4" class="b"/>
<circle cx="254.0" cy="1835.0" r="8.4" class="b"/>
<circle cx="263.5" cy="1826.6" r="8.4" class="b"/>
<circle cx="410.4" cy="1694.4" r="8.4" class="b"/>
<circle cx="415.7" cy="1757.4" r="8.4" class="b"/>
<circle cx="394.7" cy="1766.8" r="8.4" class="b"/>
<circle cx="403.1" cy="1784.6" r="8.4" class="b"/>
<circle cx="404.1" cy="1795.1" r="8.4" class="b"/>
<circle cx="408.3" cy="1802.5" r="8.4" class="b"/>
<circle cx="633.5" cy="1712.4" r="8.4" class="b"/>
<circle cx="463.1" cy="1769.0" r="8.4" class="b"/>
<circle cx="471.9" cy="1775.6" r="8.4" class="b"/>
<circle cx="465.3" cy="1783.7" r="8.4" class="b"/>
<circle cx="441.0" cy="1793.2" r="8.4" class="b"/>
<circle cx="447.6" cy="1801.3" r="8.4" class="b"/>
<circle cx="477.0" cy="1816.0" r="8.4" class="b"/>
<circle cx="444.7" cy="1821.9" r="8.4" class="b"/>
<circle cx="452.0" cy="1833.7" r="8.4" class="b"/>
<circle cx="463.1" cy="1835.1" r="8.4" class="b"/>
<circle cx="471.1" cy="1833.7" r="8.4" class="b"/>
<circle cx="477.0" cy="1836.6" r="8.4" class="b"/>
<circle cx="472.6" cy="1849.8" r="8.4" class="b"/>
<circle cx="729.2" cy="1729.0" r="8.4" class="b"/>
<circle cx="768.0" cy="1711.2" r="8.4" class="b"/>
<circle cx="875.1" cy="1700.7" r="8.4" class="b"/>
<circle cx="902.4" cy="1692.3" r="8.4" class="b"/>
<circle cx="874.0" cy="1759.5" r="8.4" class="b"/>
<circle cx="780.6" cy="1780.4" r="8.4" class="b"/>
<circle cx="685.1" cy="1794.1" r="8.4" class="b"/>
<circle cx="774.3" cy="1809.8" r="8.4" class="b"/>
<circle cx="770.1" cy="1815.1" r="8.4" class="b"/>
<circle cx="741.8" cy="1822.4" r="8.4" class="b"/>
<circle cx="725.0" cy="1826.6" r="8.4" class="b"/>
<circle cx="656.7" cy="1837.1" r="8.4" class="b"/>
<circle cx="709.2" cy="1844.5" r="8.4" class="b"/>
<circle cx="735.5" cy="1844.5" r="8.4" class="b"/>
<circle cx="945.1" cy="1552.6" r="8.4" class="b"/>
<circle cx="967.2" cy="1557.8" r="8.4" class="b"/>
<circle cx="973.5" cy="1559.9" r="8.4" class="b"/>
<circle cx="960.9" cy="1565.2" r="8.4" class="b"/>
<circle cx="951.4" cy="1573.6" r="8.4" class="b"/>
<circle cx="960.9" cy="1578.8" r="8.4" class="b"/>
<circle cx="977.7" cy="1582.0" r="8.4" class="b"/>
<circle cx="975.6" cy="1589.3" r="8.4" class="b"/>
<circle cx="965.1" cy="1605.1" r="8.4" class="b"/>
<circle cx="973.5" cy="1613.5" r="8.4" class="b"/>
<circle cx="955.6" cy="1630.3" r="8.4" class="b"/>
<circle cx="1075.3" cy="1546.3" r="8.4" class="b"/>
<circle cx="1252.7" cy="1546.4" r="8.4" class="b"/>
<circle cx="1244.8" cy="1558.6" r="8.4" class="b"/>
<circle cx="1274.6" cy="1566.5" r="8.4" class="b"/>
<circle cx="1328.8" cy="1546.4" r="8.4" class="b"/>
<circle cx="1291.2" cy="1589.2" r="8.4" class="b"/>
<circle cx="1280.7" cy="1534.1" r="8.4" class="b"/>
<circle cx="997.6" cy="1542.1" r="8.4" class="b"/>
<circle cx="1165.2" cy="1511.4" r="8.4" class="b"/>
<circle cx="988.6" cy="1493.4" r="8.4" class="b"/>
<circle cx="996.0" cy="1490.8" r="8.4" class="b"/>
<circle cx="989.7" cy="1524.9" r="8.4" class="b"/>
<circle cx="1004.9" cy="1521.7" r="8.4" class="b"/>
<circle cx="1008.6" cy="1517.5" r="8.4" class="b"/>
<circle cx="998.1" cy="1540.1" r="8.4" class="b"/>
<circle cx="1152.3" cy="1407.3" r="8.4" class="b"/>
<circle cx="1107.1" cy="1419.9" r="8.4" class="b"/>
<circle cx="1111.3" cy="1421.5" r="8.4" class="b"/>
<circle cx="1107.6" cy="1433.0" r="8.4" class="b"/>
<circle cx="1147.0" cy="1425.2" r="8.4" class="b"/>
<circle cx="1146.5" cy="1442.5" r="8.4" class="b"/>
<circle cx="1137.6" cy="1449.3" r="8.4" class="b"/>
<circle cx="1154.4" cy="1456.7" r="8.4" class="b"/>
<circle cx="1058.8" cy="1452.5" r="8.4" class="b"/>
<circle cx="1107.6" cy="1450.4" r="8.4" class="b"/>
<circle cx="1116.6" cy="1452.5" r="8.4" class="b"/>
<circle cx="1107.6" cy="1465.6" r="8.4" class="b"/>
<circle cx="1108.2" cy="1474.0" r="8.4" class="b"/>
<circle cx="1076.7" cy="1468.2" r="8.4" class="b"/>
<circle cx="1093.5" cy="1469.2" r="8.4" class="b"/>
<circle cx="1048.3" cy="1479.2" r="8.4" class="b"/>
<circle cx="1062.0" cy="1476.1" r="8.4" class="b"/>
<circle cx="1069.3" cy="1480.3" r="8.4" class="b"/>
<circle cx="1084.6" cy="1483.9" r="8.4" class="b"/>
<circle cx="1102.4" cy="1485.0" r="8.4" class="b"/>
<circle cx="1028.4" cy="1487.1" r="8.4" class="b"/>
<circle cx="1033.6" cy="1487.1" r="8.4" class="b"/>
<circle cx="1065.1" cy="1491.3" r="8.4" class="b"/>
<circle cx="1099.8" cy="1496.0" r="8.4" class="b"/>
<circle cx="1125.0" cy="1485.0" r="8.4" class="b"/>
<circle cx="1134.4" cy="1487.6" r="8.4" class="b"/>
<circle cx="1142.3" cy="1474.5" r="8.4" class="b"/>
<circle cx="1151.7" cy="1497.1" r="8.4" class="b"/>
<circle cx="1043.6" cy="1508.6" r="8.4" class="b"/>
<circle cx="1046.8" cy="1521.2" r="8.4" class="b"/>
<circle cx="1034.2" cy="1537.5" r="8.4" class="b"/>
<circle cx="1083.0" cy="1525.4" r="8.4" class="b"/>
<circle cx="1097.7" cy="1518.6" r="8.4" class="b"/>
<circle cx="1195.0" cy="1408.0" r="8.4" class="b"/>
<circle cx="1225.6" cy="1401.9" r="8.4" class="b"/>
<circle cx="1173.1" cy="1425.5" r="8.4" class="b"/>
<circle cx="1173.1" cy="1437.7" r="8.4" class="b"/>
<circle cx="1196.7" cy="1431.6" r="8.4" class="b"/>
<circle cx="1245.7" cy="1436.0" r="8.4" class="b"/>
<circle cx="1251.8" cy="1442.1" r="8.4" class="b"/>
<circle cx="1274.6" cy="1429.9" r="8.4" class="b"/>
<circle cx="1296.5" cy="1422.0" r="8.4" class="b"/>
<circle cx="1314.8" cy="1437.7" r="8.4" class="b"/>
<circle cx="1312.2" cy="1448.2" r="8.4" class="b"/>
<circle cx="1341.1" cy="1431.6" r="8.4" class="b"/>
<circle cx="1230.0" cy="1450.9" r="8.4" class="b"/>
<circle cx="1212.5" cy="1460.5" r="8.4" class="b"/>
<circle cx="1195.0" cy="1466.6" r="8.4" class="b"/>
<circle cx="1166.0" cy="1472.8" r="8.4" class="b"/>
<circle cx="1288.6" cy="1457.0" r="8.4" class="b"/>
<circle cx="1300.0" cy="1458.7" r="8.4" class="b"/>
<circle cx="1270.2" cy="1477.1" r="8.4" class="b"/>
<circle cx="1244.0" cy="1493.7" r="8.4" class="b"/>
<circle cx="1332.3" cy="1459.6" r="8.4" class="b"/>
<circle cx="1341.9" cy="1461.4" r="8.4" class="b"/>
<circle cx="1356.0" cy="1461.4" r="8.4" class="b"/>
<circle cx="1358.6" cy="1472.7" r="8.4" class="b"/>
<circle cx="1318.3" cy="1479.7" r="8.4" class="b"/>
<circle cx="1353.3" cy="1479.7" r="8.4" class="b"/>
<circle cx="231.3" cy="1857.3" r="8.4" class="r"/>
<circle cx="268.1" cy="1855.8" r="8.4" class="r"/>
<circle cx="231.3" cy="1876.8" r="8.4" class="r"/>
<circle cx="235.5" cy="1888.3" r="8.4" class="r"/>
<circle cx="213.0" cy="1909.8" r="8.4" class="r"/>
<circle cx="209.8" cy="1920.9" r="8.4" class="r"/>
<circle cx="217.2" cy="1927.7" r="8.4" class="r"/>
<circle cx="229.2" cy="1922.4" r="8.4" class="r"/>
<circle cx="222.4" cy="1931.9" r="8.4" class="r"/>
<circle cx="257.6" cy="1914.6" r="8.4" class="r"/>
<circle cx="208.8" cy="1941.3" r="8.4" class="r"/>
<circle cx="231.3" cy="1942.4" r="8.4" class="r"/>
<circle cx="222.4" cy="1950.8" r="8.4" class="r"/>
<circle cx="197.2" cy="1953.4" r="8.4" class="r"/>
<circle cx="204.6" cy="1953.4" r="8.4" class="r"/>
<circle cx="200.4" cy="1966.5" r="8.4" class="r"/>
<circle cx="283.8" cy="1965.5" r="8.4" class="r"/>
<circle cx="188.3" cy="1993.8" r="8.4" class="r"/>
<circle cx="257.6" cy="1987.5" r="8.4" class="r"/>
<circle cx="188.3" cy="2010.6" r="8.4" class="r"/>
<circle cx="203.0" cy="2019.0" r="8.4" class="r"/>
<circle cx="189.9" cy="2022.1" r="8.4" class="r"/>
<circle cx="199.3" cy="2026.3" r="8.4" class="r"/>
<circle cx="211.4" cy="2034.7" r="8.4" class="r"/>
<circle cx="211.9" cy="2038.9" r="8.4" class="r"/>
<circle cx="180.4" cy="2033.7" r="8.4" class="r"/>
<circle cx="180.4" cy="2042.1" r="8.4" class="r"/>
<circle cx="178.3" cy="2049.4" r="8.4" class="r"/>
<circle cx="163.6" cy="2055.7" r="8.4" class="r"/>
<circle cx="294.9" cy="2034.7" r="8.4" class="r"/>
<circle cx="432.5" cy="1869.4" r="8.4" class="r"/>
<circle cx="165.8" cy="2079.3" r="8.4" class="r"/>
<circle cx="456.9" cy="1848.5" r="8.4" class="r"/>
<circle cx="461.1" cy="1856.0" r="8.4" class="r"/>
<circle cx="473.7" cy="1856.0" r="8.4" class="r"/>
<circle cx="464.5" cy="1867.8" r="8.4" class="r"/>
<circle cx="475.4" cy="1867.8" r="8.4" class="r"/>
<circle cx="460.3" cy="1874.5" r="8.4" class="r"/>
<circle cx="452.7" cy="1886.3" r="8.4" class="r"/>
<circle cx="471.2" cy="1894.2" r="8.4" class="r"/>
<circle cx="495.6" cy="1885.4" r="8.4" class="r"/>
<circle cx="526.2" cy="1883.3" r="8.4" class="r"/>
<circle cx="518.2" cy="1901.0" r="8.4" class="r"/>
<circle cx="526.2" cy="1906.0" r="8.4" class="r"/>
<circle cx="513.6" cy="1912.7" r="8.4" class="r"/>
<circle cx="487.2" cy="1938.7" r="8.4" class="r"/>
<circle cx="505.1" cy="1938.7" r="8.4" class="r"/>
<circle cx="507.2" cy="1947.1" r="8.4" class="r"/>
<circle cx="470.4" cy="1942.9" r="8.4" class="r"/>
<circle cx="463.1" cy="1958.6" r="8.4" class="r"/>
<circle cx="482.0" cy="1966.0" r="8.4" class="r"/>
<circle cx="487.2" cy="1972.3" r="8.4" class="r"/>
<circle cx="467.3" cy="1972.3" r="8.4" class="r"/>
<circle cx="472.5" cy="1984.9" r="8.4" class="r"/>
<circle cx="478.8" cy="1983.8" r="8.4" class="r"/>
<circle cx="554.4" cy="1945.0" r="8.4" class="r"/>
<circle cx="568.1" cy="1983.8" r="8.4" class="r"/>
<circle cx="578.6" cy="1987.0" r="8.4" class="r"/>
<circle cx="584.9" cy="1995.4" r="8.4" class="r"/>
<circle cx="540.8" cy="1993.3" r="8.4" class="r"/>
<circle cx="521.9" cy="2013.2" r="8.4" class="r"/>
<circle cx="513.5" cy="2027.9" r="8.4" class="r"/>
<circle cx="487.2" cy="2025.8" r="8.4" class="r"/>
<circle cx="474.6" cy="2034.2" r="8.4" class="r"/>
<circle cx="495.6" cy="2056.3" r="8.4" class="r"/>
<circle cx="515.6" cy="2075.1" r="8.4" class="r"/>
<circle cx="548.1" cy="2073.0" r="8.4" class="r"/>
<circle cx="606.9" cy="1908.2" r="8.4" class="r"/>
<circle cx="627.9" cy="1930.3" r="8.4" class="r"/>
<circle cx="600.6" cy="1942.9" r="8.4" class="r"/>
<circle cx="700.3" cy="1867.3" r="8.4" class="r"/>
<circle cx="269.8" cy="1710.1" r="8.4" class="r"/>
<circle cx="261.4" cy="1787.8" r="8.4" class="r"/>
<circle cx="255.1" cy="1816.1" r="8.4" class="r"/>
<circle cx="267.7" cy="1816.1" r="8.4" class="r"/>
<circle cx="280.3" cy="1816.1" r="8.4" class="r"/>
<circle cx="290.8" cy="1832.9" r="8.4" class="r"/>
<circle cx="398.9" cy="1672.3" r="8.4" class="r"/>
<circle cx="408.3" cy="1668.1" r="8.4" class="r"/>
<circle cx="402.0" cy="1692.3" r="8.4" class="r"/>
<circle cx="395.7" cy="1716.4" r="8.4" class="r"/>
<circle cx="405.2" cy="1710.1" r="8.4" class="r"/>
<circle cx="416.7" cy="1716.4" r="8.4" class="r"/>
<circle cx="406.2" cy="1730.1" r="8.4" class="r"/>
<circle cx="420.9" cy="1731.1" r="8.4" class="r"/>
<circle cx="404.1" cy="1749.0" r="8.4" class="r"/>
<circle cx="406.2" cy="1761.6" r="8.4" class="r"/>
<circle cx="385.2" cy="1776.3" r="8.4" class="r"/>
<circle cx="400.0" cy="1776.3" r="8.4" class="r"/>
<circle cx="424.1" cy="1802.5" r="8.4" class="r"/>
<circle cx="443.2" cy="1830.7" r="8.4" class="r"/>
<circle cx="468.9" cy="1796.2" r="8.4" class="r"/>
<circle cx="457.9" cy="1805.0" r="8.4" class="r"/>
<circle cx="489.5" cy="1841.0" r="8.4" class="r"/>
<circle cx="510.1" cy="1836.6" r="8.4" class="r"/>
<circle cx="741.8" cy="1639.8" r="8.4" class="r"/>
<circle cx="719.7" cy="1680.7" r="8.4" class="r"/>
<circle cx="739.7" cy="1731.1" r="8.4" class="r"/>
<circle cx="678.8" cy="1759.5" r="8.4" class="r"/>
<circle cx="802.7" cy="1804.6" r="8.4" class="r"/>
<circle cx="780.6" cy="1828.7" r="8.4" class="r"/>
<circle cx="945.1" cy="1579.9" r="8.4" class="r"/>
<circle cx="940.9" cy="1395.8" r="8.4" class="r"/>
<circle cx="999.7" cy="1393.1" r="8.4" class="r"/>
<circle cx="989.7" cy="1425.7" r="8.4" class="r"/>
<circle cx="1354.2" cy="1391.4" r="8.4" class="r"/>
<circle cx="1327.1" cy="1469.2" r="8.4" class="r"/>
<circle cx="1368.2" cy="1475.3" r="8.4" class="r"/>
<circle cx="983.4" cy="1254.7" r="8.4" class="r"/>
<circle cx="997.6" cy="1259.4" r="8.4" class="r"/>
<circle cx="975.5" cy="1269.9" r="8.4" class="r"/>
<circle cx="963.0" cy="1275.7" r="8.4" class="r"/>
<circle cx="1016.0" cy="1263.6" r="8.4" class="r"/>
<circle cx="1027.5" cy="1257.3" r="8.4" class="r"/>
<circle cx="1035.9" cy="1252.1" r="8.4" class="r"/>
<circle cx="1035.9" cy="1262.0" r="8.4" class="r"/>
<circle cx="1024.4" cy="1279.4" r="8.4" class="r"/>
<circle cx="1013.9" cy="1290.4" r="8.4" class="r"/>
<circle cx="1026.5" cy="1298.3" r="8.4" class="r"/>
<circle cx="1035.9" cy="1296.2" r="8.4" class="r"/>
<circle cx="1021.7" cy="1308.8" r="8.4" class="r"/>
<circle cx="963.0" cy="1292.5" r="8.4" class="r"/>
<circle cx="980.3" cy="1295.1" r="8.4" class="r"/>
<circle cx="996.0" cy="1293.5" r="8.4" class="r"/>
<circle cx="976.1" cy="1304.0" r="8.4" class="r"/>
<circle cx="996.0" cy="1308.2" r="8.4" class="r"/>
<circle cx="998.1" cy="1314.0" r="8.4" class="r"/>
<circle cx="999.7" cy="1329.2" r="8.4" class="r"/>
<circle cx="959.8" cy="1319.8" r="8.4" class="r"/>
<circle cx="948.8" cy="1324.5" r="8.4" class="r"/>
<circle cx="979.7" cy="1320.3" r="8.4" class="r"/>
<circle cx="971.3" cy="1334.5" r="8.4" class="r"/>
<circle cx="983.9" cy="1344.4" r="8.4" class="r"/>
<circle cx="953.0" cy="1344.4" r="8.4" class="r"/>
<circle cx="922.5" cy="1340.8" r="8.4" class="r"/>
<circle cx="934.6" cy="1359.1" r="8.4" class="r"/>
<circle cx="1037.5" cy="1330.3" r="8.4" class="r"/>
<circle cx="1051.0" cy="1260.5" r="8.4" class="r"/>
<circle cx="1056.2" cy="1271.5" r="8.4" class="r"/>
<circle cx="1046.3" cy="1279.9" r="8.4" class="r"/>
<circle cx="1058.9" cy="1295.6" r="8.4" class="r"/>
<circle cx="1077.8" cy="1259.4" r="8.4" class="r"/>
<circle cx="1093.0" cy="1261.0" r="8.4" class="r"/>
<circle cx="1109.8" cy="1263.1" r="8.4" class="r"/>
<circle cx="1076.2" cy="1276.7" r="8.4" class="r"/>
<circle cx="1090.4" cy="1273.6" r="8.4" class="r"/>
<circle cx="1103.5" cy="1276.2" r="8.4" class="r"/>
<circle cx="1091.9" cy="1301.9" r="8.4" class="r"/>
<circle cx="1128.1" cy="1265.2" r="8.4" class="r"/>
<circle cx="1146.5" cy="1264.7" r="8.4" class="r"/>
<circle cx="1135.0" cy="1277.8" r="8.4" class="r"/>
<circle cx="1146.5" cy="1277.8" r="8.4" class="r"/>
<circle cx="1148.1" cy="1285.1" r="8.4" class="r"/>
<circle cx="1119.7" cy="1287.8" r="8.4" class="r"/>
<circle cx="1130.2" cy="1296.7" r="8.4" class="r"/>
<circle cx="1158.6" cy="1295.6" r="8.4" class="r"/>
<circle cx="1151.8" cy="1300.9" r="8.4" class="r"/>
<circle cx="1152.3" cy="1311.4" r="8.4" class="r"/>
<circle cx="1168.6" cy="1261.5" r="8.4" class="r"/>
<circle cx="1177.0" cy="1261.5" r="8.4" class="r"/>
<circle cx="1121.3" cy="1249.4" r="8.4" class="r"/>
<circle cx="1068.8" cy="1324.5" r="8.4" class="r"/>
<circle cx="1083.0" cy="1322.4" r="8.4" class="r"/>
<circle cx="1051.0" cy="1338.7" r="8.4" class="r"/>
<circle cx="1063.1" cy="1361.2" r="8.4" class="r"/>
<circle cx="1063.1" cy="1371.2" r="8.4" class="r"/>
<circle cx="1119.7" cy="1380.7" r="8.4" class="r"/>
<circle cx="1042.3" cy="1231.9" r="8.4" class="r"/>
<circle cx="1046.5" cy="1245.3" r="8.4" class="r"/>
<circle cx="1070.0" cy="1235.3" r="8.4" class="r"/>
<circle cx="1074.2" cy="1244.5" r="8.4" class="r"/>
<circle cx="1084.3" cy="1241.1" r="8.4" class="r"/>
<circle cx="1098.6" cy="1237.0" r="8.4" class="r"/>
<circle cx="1104.4" cy="1237.0" r="8.4" class="r"/>
<circle cx="1099.4" cy="1243.7" r="8.4" class="r"/>
<circle cx="1117.9" cy="1232.8" r="8.4" class="r"/>
<circle cx="1134.7" cy="1223.5" r="8.4" class="r"/>
<circle cx="1140.5" cy="1237.0" r="8.4" class="r"/>
<circle cx="1129.6" cy="1244.5" r="8.4" class="r"/>
<circle cx="1319.5" cy="1245.2" r="8.4" class="r"/>
<circle cx="1296.8" cy="1255.3" r="8.4" class="r"/>
<circle cx="1268.3" cy="1269.5" r="8.4" class="r"/>
<circle cx="1239.7" cy="1285.5" r="8.4" class="r"/>
<circle cx="1254.0" cy="1302.3" r="8.4" class="r"/>
<circle cx="1288.4" cy="1312.4" r="8.4" class="r"/>
<circle cx="1315.3" cy="1314.1" r="8.4" class="r"/>
<circle cx="1365.7" cy="1316.6" r="8.4" class="r"/>
</g>
<line x1="148.2" y1="2138.3" x2="148.2" y2="2126.3" class="t"/>
<line x1="148.2" y1="1161.8" x2="148.2" y2="1173.8" class="t"/>
<line x1="400.3" y1="2138.3" x2="400.3" y2="2126.3" class="t"/>
<line x1="400.3" y1="1161.8" x2="400.3" y2="1173.8" class="t"/>
<line x1="652.6" y1="2138.3" x2="652.6" y2="2126.3" class="t"/>
<line x1="652.6" y1="1161.8" x2="652.6" y2="1173.8" class="t"/>
<line x1="904.6" y1="2138.3" x2="904.6" y2="2126.3" class="t"/>
<line x1="904.6" y1="1161.8" x2="904.6" y2="1173.8" class="t"/>
<line x1="1156.9" y1="2138.3" x2="1156.9" y2="2126.3" class="t"/>
<line x1="1156.9" y1="1161.8" x2="1156.9" y2="1173.8" class="t"/>
<line x1="1408.6" y1="2138.3" x2="1408.6" y2="2126.3" class="t"/>
<line x1="1408.6" y1="1161.8" x2="1408.6" y2="1173.8" class="t"/>
<line x1="148.2" y1="2138.3" x2="160.2" y2="2138.3" class="t"/>
<line x1="1408.6" y1="2138.3" x2="1396.6" y2="2138.3" class="t"/>
<line x1="148.2" y1="1997.9" x2="160.2" y2="1997.9" class="t"/>
<line x1="1408.6" y1="1997.9" x2="1396.6" y2="1997.9" class="t"/>
<line x1="148.2" y1="1857.5" x2="160.2" y2="1857.5" class="t"/>
<line x1="1408.6" y1="1857.5" x2="1396.6" y2="1857.5" class="t"/>
<line x1="148.2" y1="1719.0" x2="160.2" y2="1719.0" class="t"/>
<line x1="1408.6" y1="1719.0" x2="1396.6" y2="1719.0" class="t"/>
<line x1="148.2" y1="1578.6" x2="160.2" y2="1578.6" class="t"/>
<line x1="1408.6" y1="1578.6" x2="1396.6" y2="1578.6" class="t"/>
<line x1="148.2" y1="1440.3" x2="160.2" y2="1440.3" class="t"/>
<line x1="1408.6" y1="1440.3" x2="1396.6" y2="1440.3" class="t"/>
<line x1="148.2" y1="1300.0" x2="160.2" y2="1300.0" class="t"/>
<line x1="1408.6" y1="1300.0" x2="1396.6" y2="1300.0" class="t"/>
<line x1="148.2" y1="1161.8" x2="160.2" y2="1161.8" class="t"/>
<line x1="1408.6" y1="1161.8" x2="1396.6" y2="1161.8" class="t"/>
<rect x="148.2" y="1161.8" width="1260.4" height="976.5" class="fr"/>
<text x="132.30" y="2144.50" text-anchor="end" class="tl" textLength="70.63" lengthAdjust="spacingAndGlyphs">0.00</text>
<text x="132.30" y="2004.10" text-anchor="end" class="tl" textLength="70.63" lengthAdjust="spacingAndGlyphs">0.01</text>
<text x="132.30" y="1863.70" text-anchor="end" class="tl" textLength="70.63" lengthAdjust="spacingAndGlyphs">0.02</text>
<text x="132.30" y="1725.20" text-anchor="end" class="tl" textLength="70.63" lengthAdjust="spacingAndGlyphs">0.03</text>
<text x="132.30" y="1584.80" text-anchor="end" class="tl" textLength="70.63" lengthAdjust="spacingAndGlyphs">0.04</text>
<text x="132.30" y="1446.50" text-anchor="end" class="tl" textLength="70.63" lengthAdjust="spacingAndGlyphs">0.05</text>
<text x="132.30" y="1306.20" text-anchor="end" class="tl" textLength="70.63" lengthAdjust="spacingAndGlyphs">0.06</text>
<text x="132.30" y="1168.00" text-anchor="end" class="tl" textLength="70.63" lengthAdjust="spacingAndGlyphs">0.07</text>
<text x="135.57" y="2171.90" class="tl" textLength="19.47" lengthAdjust="spacingAndGlyphs">0</text>
<text x="387.67" y="2171.90" class="tl" textLength="19.47" lengthAdjust="spacingAndGlyphs">1</text>
<text x="639.97" y="2171.90" class="tl" textLength="19.47" lengthAdjust="spacingAndGlyphs">2</text>
<text x="891.97" y="2171.90" class="tl" textLength="19.47" lengthAdjust="spacingAndGlyphs">3</text>
<text x="1144.27" y="2171.90" class="tl" textLength="19.47" lengthAdjust="spacingAndGlyphs">4</text>
<text x="1395.97" y="2171.90" class="tl" textLength="19.47" lengthAdjust="spacingAndGlyphs">5</text>
<text x="653.90" y="2216.20" class="tl" style="font-size:33.3px" textLength="245.48" lengthAdjust="spacingAndGlyphs">distance [mm]</text>
<text transform="translate(37.00,1648.05) rotate(-90)" text-anchor="middle" class="tl" style="font-size:33.3px" textLength="223.84" lengthAdjust="spacingAndGlyphs">velocity [m/s]</text>
<rect x="164.4" y="1177.7" width="312.7" height="200.6" class="lg"/>
<line x1="185.7" y1="1203.4" x2="236.1" y2="1203.4" stroke="#000" stroke-width="3.4"/>
<line x1="185.7" y1="1252.2" x2="236.1" y2="1252.2" stroke="#a6a6a6" stroke-width="3"/>
<circle cx="188.6" cy="1300.2" r="8.4" class="b"/>
<circle cx="188.6" cy="1349.2" r="8.4" class="r"/>
<circle cx="235.7" cy="1300.2" r="8.4" class="b"/>
<circle cx="235.7" cy="1349.2" r="8.4" class="r"/>
<text x="272.80" y="1212.90" class="tl" textLength="66.17" lengthAdjust="spacingAndGlyphs">CFD</text>
<text x="272.80" y="1264.20" class="tl" textLength="68.59" lengthAdjust="spacingAndGlyphs">CFD</text>
<text x="389.90" y="1264.20" class="tl" textLength="69.38" lengthAdjust="spacingAndGlyphs">DOF</text>
<text x="273.40" y="1310.50" class="tl" textLength="71.49" lengthAdjust="spacingAndGlyphs">PIV1</text>
<text x="273.40" y="1360.00" class="tl" textLength="71.49" lengthAdjust="spacingAndGlyphs">PIV2</text>
<path d="M354.6,1263.5 H376 M354.6,1253.4 H376 M365.4,1242.0 V1263.5" stroke="#000" stroke-width="1.7" fill="none"/>
</svg></body></html>
